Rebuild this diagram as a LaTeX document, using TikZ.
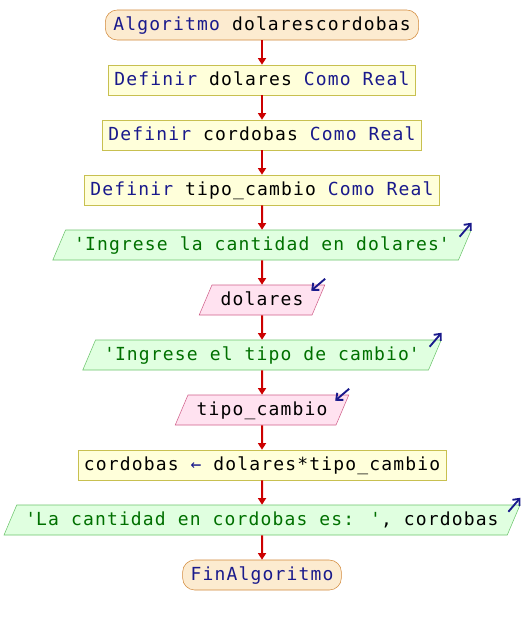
\documentclass[tikz,border=0pt]{standalone}
\usepackage{fontspec}
\usepackage{tikz}
\usetikzlibrary{arrows.meta,shapes.geometric,calc}

\newfontfamily\pseint{DejaVu Sans Mono}[LetterSpace=6.4]
\definecolor{flowred}{HTML}{CC0000}
\definecolor{termfill}{HTML}{FCEBD0}
\definecolor{termline}{HTML}{D2893A}
\definecolor{procfill}{HTML}{FFFFDA}
\definecolor{procline}{HTML}{C8C050}
\definecolor{outfill}{HTML}{E0FFE0}
\definecolor{outline}{HTML}{6CC46C}
\definecolor{infill}{HTML}{FFE2F0}
\definecolor{inline}{HTML}{D0608A}
\definecolor{kwblue}{HTML}{1A1A8C}
\definecolor{strgreen}{HTML}{007000}
\newcommand{\kw}[1]{\textcolor{kwblue}{#1}}
\newcommand{\pstr}[1]{\textcolor{strgreen}{#1}}
\newcommand{\q}{\textquotesingle}

\begin{document}
\begin{tikzpicture}[x=0.75pt, y=0.75pt, font=\pseint\fontsize{13.5}{16}\selectfont]
    \tikzstyle{arrow} = [draw=flowred, line width=1.5pt, -{Triangle[width=6pt,length=5pt]}]
    \tikzstyle{box} = [text height=10.5pt, text depth=3pt, inner ysep=4.5pt]
    \tikzstyle{terminal} = [box, draw=termline, fill=termfill, rounded corners=9pt, inner xsep=6pt]
    \tikzstyle{process} = [box, draw=procline, fill=procfill, inner xsep=4.5pt]
    \tikzstyle{output} = [box, trapezium, trapezium left angle=67, trapezium right angle=113,
                          draw=outline, fill=outfill, inner xsep=6.5pt]
    \tikzstyle{input} = [output, draw=inline, fill=infill]
    \tikzstyle{iconarrow} = [draw=kwblue, line width=1.4pt, -{Straight Barb[length=4pt,width=7pt]}]
    \useasboundingbox (0,0) rectangle (524,-625);

    % Start of the algorithm
    \node [terminal] (Start) at (262,-25) {\kw{Algoritmo} dolarescordobas};

    % Definitions
    \node [process] (DefDolares) at (262,-80) {\kw{Definir} dolares \kw{Como Real}};
    \draw [arrow] (Start) -- (DefDolares);

    \node [process] (DefCordobas) at (262,-135) {\kw{Definir} cordobas \kw{Como Real}};
    \draw [arrow] (DefDolares) -- (DefCordobas);

    \node [process] (DefCambio) at (262,-190) {\kw{Definir} tipo\_cambio \kw{Como Real}};
    \draw [arrow] (DefCordobas) -- (DefCambio);

    % Ask for the amount, then read it
    \node [output] (AskDolares) at (262,-245) {\pstr{\q Ingrese la cantidad en dolares\q}};
    \draw [arrow] (DefCambio) -- (AskDolares);
    \draw [iconarrow] ($(AskDolares.top right corner)+(-12,-7)$) -- ($(AskDolares.top right corner)+(0,7)$);

    \node [input] (ReadDolares) at (262,-300) {dolares};
    \draw [arrow] (AskDolares) -- (ReadDolares);
    \draw [iconarrow] ($(ReadDolares.top right corner)+(0,6)$) -- ($(ReadDolares.top right corner)+(-14,-6)$);

    % Ask for the rate, then read it
    \node [output] (AskCambio) at (262,-355) {\pstr{\q Ingrese el tipo de cambio\q}};
    \draw [arrow] (ReadDolares) -- (AskCambio);
    \draw [iconarrow] ($(AskCambio.top right corner)+(-12,-7)$) -- ($(AskCambio.top right corner)+(0,7)$);

    \node [input] (ReadCambio) at (262,-410) {tipo\_cambio};
    \draw [arrow] (AskCambio) -- (ReadCambio);
    \draw [iconarrow] ($(ReadCambio.top right corner)+(0,6)$) -- ($(ReadCambio.top right corner)+(-14,-6)$);

    % Conversion
    \node [process] (Assign) at (262,-465) {cordobas \kw{←} dolares*tipo\_cambio};
    \draw [arrow] (ReadCambio) -- (Assign);

    % Show the result
    \node [output] (ShowResult) at (262,-520) {\pstr{\q La cantidad en cordobas es: \q}, cordobas};
    \draw [arrow] (Assign) -- (ShowResult);
    \draw [iconarrow] ($(ShowResult.top right corner)+(-12,-7)$) -- ($(ShowResult.top right corner)+(0,7)$);

    % End of the algorithm
    \node [terminal] (End) at (262,-575) {\kw{FinAlgoritmo}};
    \draw [arrow] (ShowResult) -- (End);
\end{tikzpicture}
\end{document}
